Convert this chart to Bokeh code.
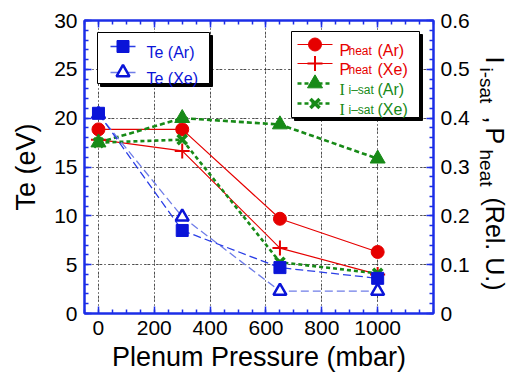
import math
import numpy as np
from bokeh.plotting import figure
from bokeh.layouts import row
from bokeh.models import Range1d, LinearAxis, FixedTicker, Grid
from bokeh.core.properties import value
from bokeh.embed import file_html
from bokeh.resources import INLINE

# ---- data -------------------------------------------------------------
pressure = [0, 300, 650, 1000]          # plenum pressure (mbar)
te_ar = [20.5, 8.5, 4.7, 3.6]           # electron temperature, Ar (eV)
te_xe = [20.4, 9.9, 2.3, 2.3]           # electron temperature, Xe (eV)
pheat_ar = [0.377, 0.377, 0.194, 0.126]  # heating power, Ar (rel. u.)
pheat_xe = [0.356, 0.333, 0.134, 0.080]  # heating power, Xe (rel. u.)
isat_ar = [0.350, 0.400, 0.387, 0.317]   # ion saturation current, Ar (rel. u.)
isat_xe = [0.350, 0.356, 0.105, 0.082]   # ion saturation current, Xe (rel. u.)

x_ticks = [0, 200, 400, 600, 800, 1000]
te_ticks = [0, 5, 10, 15, 20, 25, 30]
rel_ticks = [0, 0.1, 0.2, 0.3, 0.4, 0.5, 0.6]

# ---- styling ----------------------------------------------------------
FONT = "Liberation Sans"
AXIS_BLUE = "#1c2ee8"
BLUE = "#0a14d8"
BLUE_AR_LINE = "#2a3ee6"
BLUE_XE_LINE = "#6f7de8"
RED = "#e60000"
GREEN = "#178a17"

X0, X1 = -50, 1200
Y0, Y1 = 0, 30
R0, R1 = 0, 0.6
FL, FT, FW, FH = 84, 20, 349, 293   # frame placement in pixels
FB = 374 - FT - FH                  # bottom border
TITLE_W = 48                        # strip on the right holding the y2 title
STRIP_X = 518 - TITLE_W


def sx(px):
    """pixel column -> pressure coordinate"""
    return X0 + (px - FL) * (X1 - X0) / FW


def sy(py):
    """pixel row -> Te coordinate"""
    return Y1 - (py - FT) * (Y1 - Y0) / FH


p = figure(frame_width=FW, frame_height=FH,
           x_range=Range1d(X0, X1), y_range=Range1d(Y0, Y1),
           min_border_left=FL, min_border_top=FT,
           min_border_right=STRIP_X - FL - FW, min_border_bottom=FB,
           output_backend="svg", toolbar_location=None,
           background_fill_color="white", border_fill_color="white")
p.extra_y_ranges = {"rel": Range1d(R0, R1)}
p.outline_line_color = AXIS_BLUE
p.outline_line_width = 2

x_minor = list(np.arange(-50, 1201, 50))
te_minor = list(range(0, 31))
rel_minor = [round(v, 2) for v in np.arange(0, 0.601, 0.02)]


def style_axis(ax):
    ax.axis_line_color = AXIS_BLUE
    ax.axis_line_width = 2
    ax.major_tick_line_color = AXIS_BLUE
    ax.minor_tick_line_color = AXIS_BLUE
    ax.major_tick_line_width = 1.5
    ax.minor_tick_line_width = 1.5
    ax.major_tick_in = 7
    ax.major_tick_out = 0
    ax.minor_tick_in = 4
    ax.minor_tick_out = 0
    ax.major_label_text_font = FONT
    ax.major_label_text_font_size = "21px"
    ax.major_label_text_color = "black"
    ax.major_label_standoff = 7
    ax.axis_label_text_font = FONT
    ax.axis_label_text_font_size = "27px"
    ax.axis_label_text_font_style = "normal"
    ax.axis_label_text_color = "black"


xa = p.xaxis[0]
xa.ticker = FixedTicker(ticks=x_ticks, minor_ticks=x_minor)
style_axis(xa)
xa.axis_label = "Plenum Pressure (mbar)"
xa.axis_label_standoff = 4

ya = p.yaxis[0]
ya.ticker = FixedTicker(ticks=te_ticks, minor_ticks=te_minor)
style_axis(ya)
ya.axis_label = "Te (eV)"
ya.axis_label_standoff = 10

top = LinearAxis(ticker=FixedTicker(ticks=x_ticks, minor_ticks=x_minor),
                 major_label_overrides={t: "" for t in x_ticks})
style_axis(top)
p.add_layout(top, "above")

right = LinearAxis(y_range_name="rel",
                   ticker=FixedTicker(ticks=rel_ticks, minor_ticks=rel_minor),
                   major_label_overrides={0: "0"})
style_axis(right)
p.add_layout(right, "right")

# grid: grey dashes under black dots
for g in (p.xgrid[0], p.ygrid[0]):
    g.grid_line_color = "#9a9a9a"
    g.grid_line_dash = "6 6"
    g.grid_line_width = 1
p.xgrid[0].ticker = FixedTicker(ticks=x_ticks)
p.ygrid[0].ticker = FixedTicker(ticks=te_ticks[1:-1])
p.center.append(Grid(dimension=0, ticker=FixedTicker(ticks=x_ticks),
                     grid_line_color="black", grid_line_dash="1 3"))
p.center.append(Grid(dimension=1, ticker=FixedTicker(ticks=te_ticks[1:-1]),
                     grid_line_color="black", grid_line_dash="1 3"))

# ---- series lines -----------------------------------------------------
p.line(pressure, pheat_ar, y_range_name="rel", color=RED, line_width=1.2)
p.line(pressure, pheat_xe, y_range_name="rel", color=RED, line_width=1.2)
p.line(pressure, isat_ar, y_range_name="rel", color=GREEN, line_width=2.6,
       line_dash="5 3")
p.line(pressure, isat_xe, y_range_name="rel", color=GREEN, line_width=2.6,
       line_dash="4 3")
p.line(pressure, te_xe, color=BLUE_XE_LINE, line_width=1.3, line_dash="8 4")
p.line(pressure, te_ar, color=BLUE_AR_LINE, line_width=1.3, line_dash="8 4")

# ---- series markers ---------------------------------------------------
p.scatter(pressure, pheat_ar, y_range_name="rel", marker="circle", size=13,
          fill_color=RED, line_color=RED)
p.scatter(pressure, pheat_xe, y_range_name="rel", marker="cross", size=15,
          line_color=RED, line_width=2)
p.scatter(pressure, isat_ar, y_range_name="rel", marker="triangle", size=15,
          fill_color=GREEN, line_color=GREEN)
p.scatter(pressure, isat_xe, y_range_name="rel", marker="x", size=13,
          line_color=GREEN, line_width=3.5)
p.scatter(pressure, te_xe, marker="triangle", size=13, fill_color="white",
          line_color=BLUE, line_width=2.5)
p.scatter(pressure, te_ar, marker="square", size=12, fill_color=BLUE,
          line_color=BLUE)


# ---- legends ----------------------------------------------------------
def legend_box(l, t, r, b):
    p.quad(left=[sx(l + 3)], right=[sx(r + 3)], top=[sy(t + 3)],
           bottom=[sy(b + 3)], fill_color="black", line_color="black")
    p.quad(left=[sx(l)], right=[sx(r)], top=[sy(t)], bottom=[sy(b)],
           fill_color="white", line_color="black", line_width=1)


def legend_sample(x_l, x_r, py, color, dash, width, marker_kw):
    p.line([sx(x_l), sx(x_r)], [sy(py), sy(py)], color=color,
           line_width=width, line_dash=dash)
    p.scatter([sx((x_l + x_r) / 2)], [sy(py)], **marker_kw)


def legend_text(px, py, txt, color, size, font=FONT):
    p.text([sx(px)], [sy(py)], text=[txt], text_color=color,
           text_font=value(font), text_font_size=size,
           text_baseline="alphabetic", text_align="left")


legend_box(97, 32, 209, 83)
legend_sample(110, 135, 46, BLUE_AR_LINE, "solid", 1.3,
              dict(marker="square", size=12, fill_color=BLUE, line_color=BLUE))
legend_sample(110, 135, 72, BLUE_XE_LINE, "solid", 1.3,
              dict(marker="triangle", size=13, fill_color="white",
                   line_color=BLUE, line_width=2.5))
legend_text(146, 52, "Te (Ar)", BLUE, "16px")
legend_text(146, 78, "Te (Xe)", BLUE, "16px")

legend_box(291, 31, 419, 117)
legend_sample(297, 332, 44, RED, "solid", 1.2,
              dict(marker="circle", size=13, fill_color=RED, line_color=RED))
legend_sample(297, 332, 63, RED, "solid", 1.2,
              dict(marker="cross", size=15, line_color=RED, line_width=2))
legend_sample(297, 332, 83, GREEN, "4 3", 2.6,
              dict(marker="triangle", size=15, fill_color=GREEN,
                   line_color=GREEN))
legend_sample(297, 332, 103, GREEN, "4 3", 2.6,
              dict(marker="x", size=13, line_color=GREEN, line_width=3.5))
for py, gas in ((50, "(Ar)"), (69, "(Xe)")):
    legend_text(339, py, "P", RED, "16px")
    legend_text(348, py, "heat", RED, "12px")
    legend_text(377, py, gas, RED, "16px")
for py, gas in ((89, "(Ar)"), (109, "(Xe)")):
    legend_text(339, py, "I", GREEN, "16px", "Liberation Serif")
    legend_text(348, py, "i\u2013sat", GREEN, "12px")
    legend_text(377, py, gas, GREEN, "16px")

# ---- right-hand title strip (reads downward, with subscripts) ----------
# its frame shares the main frame's rows, so rows map through sy()
t = figure(frame_width=TITLE_W, frame_height=FH,
           x_range=Range1d(0, TITLE_W), y_range=Range1d(Y0, Y1),
           x_axis_type=None, y_axis_type=None,
           min_border_left=0, min_border_right=0,
           min_border_top=FT, min_border_bottom=FB,
           output_backend="svg", toolbar_location=None,
           outline_line_color=None, background_fill_color="white",
           border_fill_color="white")
t.xgrid.visible = False
t.ygrid.visible = False
down = -math.pi / 2
pieces = [  # (baseline column, start row, text, size)
    (492, 56, "I", "25px"),
    (484, 67, "i-sat", "19px"),
    (492, 116, ",", "25px"),
    (492, 127, "P", "25px"),
    (484, 149, "heat", "19px"),
    (492, 197, "(Rel. U.)", "25px"),
]
for bx, by, txt, size in pieces:
    t.text([bx - STRIP_X], [sy(by)], text=[txt], angle=down,
           text_font=value(FONT), text_font_size=size, text_color="black",
           text_align="left", text_baseline="alphabetic")

open("out.html", "w").write(file_html(row(p, t), INLINE))
